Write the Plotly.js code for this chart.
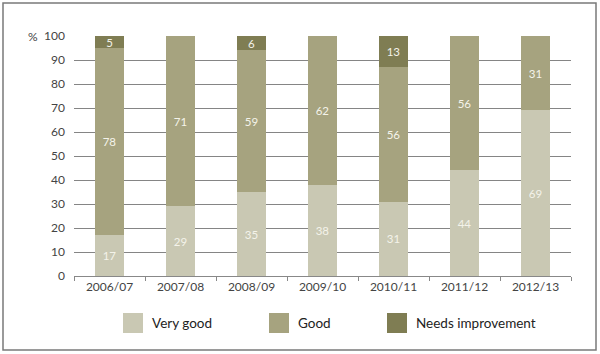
<!DOCTYPE html>
<html>
<head>
<meta charset="utf-8">
<script src="https://cdn.plot.ly/plotly-3.0.1.min.js"></script>
<style>html,body{margin:0;padding:0;background:#fff;}#chart{width:600px;height:354px;}</style>
</head>
<body>
<div id="chart"></div>
<script>
var years = ["2006/07","2007/08","2008/09","2009/10","2010/11","2011/12","2012/13"];
var veryGood = [17, 29, 35, 38, 31, 44, 69];
var good = [78, 71, 59, 62, 56, 56, 31];
var needsImprovement = [5, 0, 6, 0, 13, 0, 0];
var seriesNames = ["Very good", "Good", "Needs improvement"];
var colors = ["#c9c8b3", "#a6a37f", "#7f7d53"];
var yTicks = [0,10,20,30,40,50,60,70,80,90,100];

var W = 600, H = 354;
var L = 74, R = 571, T = 36, B = 276;
function px(x){ return (x - L) / (R - L); }
function py(y){ return (B - y) / (B - T); }

function lbl(arr){ return arr.map(function(v){ return v > 0 ? String(v) : ""; }); }
var series = [veryGood, good, needsImprovement];
var traces = series.map(function(vals, i){
  return {
    type: "bar", x: years, y: vals, name: seriesNames[i],
    marker: {color: colors[i], line: {width: 0}},
    text: lbl(vals), textposition: "inside", insidetextanchor: "middle",
    constraintext: "none", textangle: 0,
    textfont: {family: "Lato, 'Open Sans', sans-serif", size: 11.5, color: "#f4f3ea"},
    hoverinfo: "none", showlegend: false
  };
});

var shapes = [{type: "rect", xref: "paper", yref: "paper",
  x0: px(3), x1: px(596), y0: py(350), y1: py(3),
  line: {color: "#7a7a7a", width: 1.5}, layer: "below"}];
var annotations = [{xref: "paper", yref: "paper", x: px(33), y: 1, text: "%",
  showarrow: false, xanchor: "center", yanchor: "middle",
  font: {family: "Lato, 'Open Sans', sans-serif", size: 12, color: "#444"}}];
var legX = [123, 269, 387];
seriesNames.forEach(function(n, i){
  shapes.push({type: "rect", xref: "paper", yref: "paper",
    x0: px(legX[i]), x1: px(legX[i] + 20), y0: py(333), y1: py(313),
    fillcolor: colors[i], line: {width: 0}});
  annotations.push({xref: "paper", yref: "paper", x: px(legX[i] + 27), y: py(323),
    text: n, showarrow: false, xanchor: "left", yanchor: "middle",
    font: {family: "Lato, 'Open Sans', sans-serif", size: 13.5, color: "#222"}});
});

var layout = {
  width: W, height: H,
  margin: {l: L, r: W - R, t: T, b: H - B, pad: 0},
  barmode: "stack", bargap: 0.6,
  paper_bgcolor: "#fff", plot_bgcolor: "#fff",
  font: {family: "Lato, 'Open Sans', sans-serif", color: "#444"},
  xaxis: {type: "category", tickson: "boundaries", ticks: "outside", ticklen: 4,
    tickcolor: "#888", tickwidth: 1, showline: true, linecolor: "#888", linewidth: 1,
    showgrid: false, tickfont: {size: 12, color: "#444"}, fixedrange: true},
  yaxis: {range: [0, 100], tickvals: yTicks, ticktext: yTicks.map(String),
    showgrid: true, gridcolor: "#858585", gridwidth: 1, zeroline: false,
    showline: false, ticks: "", ticklabelstandoff: 8,
    tickfont: {size: 12, color: "#444"}, fixedrange: true},
  shapes: shapes, annotations: annotations, showlegend: false
};
Plotly.newPlot("chart", traces, layout, {displayModeBar: false, staticPlot: true});
</script>
</body>
</html>
